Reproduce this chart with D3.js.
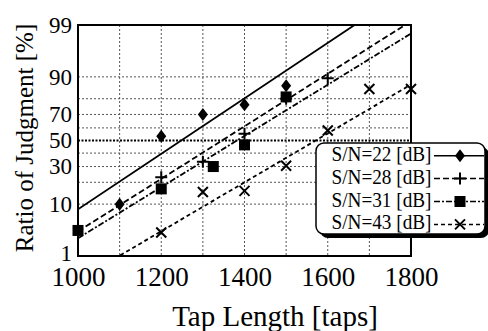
<!DOCTYPE html>
<html>
<head>
<meta charset="utf-8">
<script src="https://cdn.jsdelivr.net/npm/d3@7"></script>
<style>
  body { margin: 0; background: #fff; }
  svg { display: block; }
  text { font-family: "Liberation Serif", "DejaVu Serif", serif; fill: #000; }
</style>
</head>
<body>
<svg width="488" height="331"></svg>
<script>
// Dados do gráfico
const seriesNames = ["S/N=22 [dB]", "S/N=28 [dB]", "S/N=31 [dB]", "S/N=43 [dB]"];
const seriesMarks = ["diamond", "plus", "square", "cross"];
const seriesDash = [null, "6,3", "6,2,2,2", "4,3"];

const taps22 = [1100, 1200, 1300, 1400, 1500];
const ratio22 = [10, 53.5, 70, 76.5, 86.5];
const taps28 = [1200, 1300, 1400, 1500, 1600];
const ratio28 = [23, 33.5, 55.5, 80, 89.5];
const taps31 = [1000, 1200, 1325, 1400, 1500];
const ratio31 = [3.5, 16.5, 30, 46.5, 81];
const taps43 = [1200, 1300, 1400, 1500, 1600, 1700, 1800];
const ratio43 = [3.2, 15, 15.5, 30.5, 58, 85, 85];

// Retas de ajuste (probit): média e desvio em taps
const fitMu = [1248, 1346, 1382, 1571];
const fitSigma = [179, 189, 194, 203];

const xTicks = [1000, 1200, 1400, 1600, 1800];
const xGrid = [1100, 1200, 1300, 1400, 1500, 1600, 1700];
const yTicks = [1, 10, 30, 50, 70, 90, 99];
const yGrid = [10, 20, 30, 40, 60, 70, 80, 90];

const tapsAll = [taps22, taps28, taps31, taps43];
const ratioAll = [ratio22, ratio28, ratio31, ratio43];

// Inversa da normal (Acklam)
const probit = (p) => {
    const a = [-39.6968302866538, 220.946098424521, -275.928510446969, 138.357751867269, -30.6647980661472, 2.50662827745924];
    const b = [-54.4760987982241, 161.585836858041, -155.698979859887, 66.8013118877197, -13.2806815528857];
    const c = [-0.00778489400243029, -0.322396458041136, -2.40075827716184, -2.54973253934373, 4.37466414146497, 2.93816398269878];
    const d = [0.00778469570904146, 0.32246712907004, 2.445134137143, 3.75440866190742];
    const pl = 0.02425;
    let q, r;
    if (p < pl) {
        q = Math.sqrt(-2 * Math.log(p));
        return (((((c[0]*q+c[1])*q+c[2])*q+c[3])*q+c[4])*q+c[5]) / ((((d[0]*q+d[1])*q+d[2])*q+d[3])*q+1);
    }
    if (p > 1 - pl) {
        q = Math.sqrt(-2 * Math.log(1 - p));
        return -(((((c[0]*q+c[1])*q+c[2])*q+c[3])*q+c[4])*q+c[5]) / ((((d[0]*q+d[1])*q+d[2])*q+d[3])*q+1);
    }
    q = p - 0.5; r = q * q;
    return (((((a[0]*r+a[1])*r+a[2])*r+a[3])*r+a[4])*r+a[5])*q / (((((b[0]*r+b[1])*r+b[2])*r+b[3])*r+b[4])*r+1);
};

const pLeft = 78, pRight = 411, pTop = 25, pBottom = 256;

const x = d3.scaleLinear().domain([1000, 1800]).range([pLeft, pRight]);
const yz = d3.scaleLinear().domain([probit(0.01), probit(0.99)]).range([pBottom, pTop]);
const y = (pct) => yz(probit(pct / 100));

const svg = d3.select("svg");

svg.append("defs").append("clipPath").attr("id", "plot")
    .append("rect").attr("x", pLeft).attr("y", pTop)
    .attr("width", pRight - pLeft).attr("height", pBottom - pTop);

// Grade
const grid = svg.append("g");
grid.selectAll("line.vx").data(xGrid).enter().append("line")
    .attr("x1", d => x(d)).attr("x2", d => x(d))
    .attr("y1", pTop).attr("y2", pBottom)
    .attr("stroke", "#555").attr("stroke-width", 1).attr("stroke-dasharray", "2,2");
grid.selectAll("line.hy").data(yGrid).enter().append("line")
    .attr("x1", pLeft).attr("x2", pRight)
    .attr("y1", d => y(d)).attr("y2", d => y(d))
    .attr("stroke", "#555").attr("stroke-width", 1).attr("stroke-dasharray", "2,2");
grid.append("line")
    .attr("x1", pLeft).attr("x2", pRight).attr("y1", y(50)).attr("y2", y(50))
    .attr("stroke", "#000").attr("stroke-width", 2).attr("stroke-dasharray", "2,1.5");

// Retas de ajuste
const fits = svg.append("g").attr("clip-path", "url(#plot)");
seriesNames.forEach((name, i) => {
    const ends = [1000, 1800];
    fits.append("line")
        .attr("x1", x(ends[0])).attr("y1", yz((ends[0] - fitMu[i]) / fitSigma[i]))
        .attr("x2", x(ends[1])).attr("y2", yz((ends[1] - fitMu[i]) / fitSigma[i]))
        .attr("stroke", "#000").attr("stroke-width", 1.8)
        .attr("stroke-dasharray", seriesDash[i]);
});

// Marcadores
const drawMark = (g, kind, cx, cy) => {
    if (kind === "diamond") {
        g.append("path").attr("d", `M${cx},${cy-6.5}L${cx+5},${cy}L${cx},${cy+6.5}L${cx-5},${cy}Z`).attr("fill", "#000");
    } else if (kind === "square") {
        g.append("rect").attr("x", cx - 5.5).attr("y", cy - 5.5).attr("width", 11).attr("height", 11).attr("fill", "#000");
    } else if (kind === "plus") {
        g.append("path").attr("d", `M${cx-6},${cy}H${cx+6}M${cx},${cy-6}V${cy+6}`).attr("stroke", "#000").attr("stroke-width", 2);
    } else {
        g.append("path").attr("d", `M${cx-5},${cy-5}L${cx+5},${cy+5}M${cx-5},${cy+5}L${cx+5},${cy-5}`).attr("stroke", "#000").attr("stroke-width", 2);
    }
};

const marks = svg.append("g");
seriesNames.forEach((name, i) => {
    tapsAll[i].forEach((t, j) => drawMark(marks, seriesMarks[i], x(t), y(ratioAll[i][j])));
});

// Moldura
svg.append("rect").attr("x", pLeft).attr("y", pTop)
    .attr("width", pRight - pLeft).attr("height", pBottom - pTop)
    .attr("fill", "none").attr("stroke", "#000").attr("stroke-width", 2);

// Eixos
const xAxis = svg.append("g").attr("transform", `translate(0,${pBottom})`)
    .call(d3.axisBottom(x).tickValues(xTicks).tickSize(0).tickPadding(12).tickFormat(d3.format("d")));
xAxis.select(".domain").remove();
xAxis.selectAll("text").attr("font-size", 27).attr("font-family", "Liberation Serif, serif").attr("dy", "0.68em");

const yAxis = svg.append("g").attr("transform", `translate(${pLeft},0)`)
    .call(d3.axisLeft(yz).tickValues(yTicks.map(p => probit(p / 100))).tickSize(0).tickPadding(6)
        .tickFormat((d, i) => yTicks[i]));
yAxis.select(".domain").remove();
yAxis.selectAll("text").attr("font-size", 23).attr("font-family", "Liberation Serif, serif")
    .attr("dy", (d, i) => i === 0 ? "0.2em" : "0.32em");

svg.append("text")
    .attr("transform", "translate(33,138) rotate(-90)")
    .attr("text-anchor", "middle").attr("font-size", 25)
    .text("Ratio of Judgment [%]");

svg.append("text")
    .attr("x", 275).attr("y", 326)
    .attr("text-anchor", "middle").attr("font-size", 29)
    .text("Tap Length [taps]");

// Legenda
const leg = svg.append("g");
leg.append("rect").attr("x", 320).attr("y", 147).attr("width", 169).attr("height", 91)
    .attr("rx", 8).attr("fill", "#000");
leg.append("rect").attr("x", 316).attr("y", 143).attr("width", 169).attr("height", 91)
    .attr("rx", 8).attr("fill", "#fff").attr("stroke", "#000").attr("stroke-width", 1.5);

seriesNames.forEach((name, i) => {
    const base = 160.7 + i * 22.9;
    leg.append("text").attr("x", 331.5).attr("y", base)
        .attr("font-size", 22).attr("textLength", 100).attr("lengthAdjust", "spacingAndGlyphs")
        .text(name);
    leg.append("line").attr("x1", 434).attr("x2", 484).attr("y1", base - 5).attr("y2", base - 5)
        .attr("stroke", "#000").attr("stroke-width", 1.5).attr("stroke-dasharray", seriesDash[i]);
    drawMark(leg, seriesMarks[i], 460, base - 5);
});
</script>
</body>
</html>
